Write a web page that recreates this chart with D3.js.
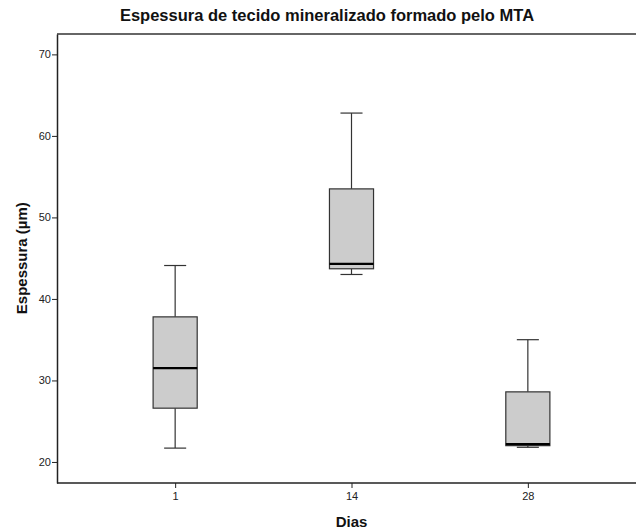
<!DOCTYPE html>
<html>
<head>
<meta charset="utf-8">
<script src="https://cdn.jsdelivr.net/npm/d3@7"></script>
<style>
  body { margin: 0; background: #fff; }
  text { font-family: "Liberation Sans", Arial, sans-serif; }
</style>
</head>
<body>
<div id="chart"></div>
<script>
// box plot values
const categories = ["1", "14", "28"];
const maxs    = [44.1, 62.8, 35.0];
const q3s     = [37.8, 53.5, 28.6];
const medians = [31.5, 44.3, 22.2];
const q1s     = [26.6, 43.7, 22.0];
const mins    = [21.7, 43.0, 21.8];
const yTicks  = [20, 30, 40, 50, 60, 70];

const W = 636, H = 531;
const margin = {top: 34, left: 57, bottom: 483, right: 646};

const svg = d3.select("#chart").append("svg")
    .attr("width", W)
    .attr("height", H);

// scales
const x = d3.scalePoint()
    .domain(categories)
    .range([margin.left, margin.right])
    .padding(0.67);
const step = x.step();
const boxW = step * 0.25;

const y = d3.scaleLinear()
    .domain([17.42, 72.5])
    .range([margin.bottom, margin.top]);

// frame top line
svg.append("line")
    .attr("x1", margin.left).attr("x2", W + 10)
    .attr("y1", margin.top).attr("y2", margin.top)
    .attr("stroke", "#333").attr("stroke-width", 1.5);

// y axis
const yAxis = svg.append("g")
    .attr("transform", "translate(" + margin.left + ",0)")
    .call(d3.axisLeft(y).tickValues(yTicks).tickSize(5).tickSizeOuter(0));
yAxis.select(".domain").attr("stroke", "#222").attr("stroke-width", 1.5);
yAxis.selectAll(".tick line").attr("stroke", "#222");
yAxis.selectAll(".tick text")
    .attr("x", -6)
    .attr("font-size", "11px")
    .attr("font-family", "Liberation Sans, Arial, sans-serif")
    .attr("fill", "#222");

// x axis
const xAxis = svg.append("g")
    .attr("transform", "translate(0," + margin.bottom + ")")
    .call(d3.axisBottom(x).tickSize(5).tickSizeOuter(0));
xAxis.select(".domain")
    .attr("d", "M" + margin.left + ",0H" + (W + 10))
    .attr("stroke", "#222").attr("stroke-width", 1.5);
xAxis.selectAll(".tick line").attr("stroke", "#222");
xAxis.selectAll(".tick text")
    .attr("y", 9)
    .attr("font-size", "11px")
    .attr("font-family", "Liberation Sans, Arial, sans-serif")
    .attr("fill", "#222");

// boxes
const data = categories.map((c, i) => ({
    cat: c, max: maxs[i], q3: q3s[i], med: medians[i], q1: q1s[i], min: mins[i]
}));

const g = svg.append("g").attr("class", "boxes");
const box = g.selectAll("g.box").data(data).enter().append("g")
    .attr("class", "box")
    .attr("transform", d => "translate(" + x(d.cat) + ",0)");

// whiskers
box.append("line")
    .attr("x1", 0).attr("x2", 0)
    .attr("y1", d => y(d.max)).attr("y2", d => y(d.q3))
    .attr("stroke", "#333").attr("stroke-width", 1.2);
box.append("line")
    .attr("x1", 0).attr("x2", 0)
    .attr("y1", d => y(d.q1)).attr("y2", d => y(d.min))
    .attr("stroke", "#333").attr("stroke-width", 1.2);
// caps
box.append("line")
    .attr("x1", -boxW / 4).attr("x2", boxW / 4)
    .attr("y1", d => y(d.max)).attr("y2", d => y(d.max))
    .attr("stroke", "#333").attr("stroke-width", 1.2);
box.append("line")
    .attr("x1", -boxW / 4).attr("x2", boxW / 4)
    .attr("y1", d => y(d.min)).attr("y2", d => y(d.min))
    .attr("stroke", "#333").attr("stroke-width", 1.2);

// box
box.append("rect")
    .attr("x", -boxW / 2)
    .attr("width", boxW)
    .attr("y", d => y(d.q3))
    .attr("height", d => y(d.q1) - y(d.q3))
    .attr("fill", "#cccccc")
    .attr("stroke", "#333")
    .attr("stroke-width", 1.2);

// median
box.append("line")
    .attr("x1", -boxW / 2).attr("x2", boxW / 2)
    .attr("y1", d => y(d.med)).attr("y2", d => y(d.med))
    .attr("stroke", "#000").attr("stroke-width", 2.2);

// title
svg.append("text")
    .attr("x", 327).attr("y", 21)
    .attr("text-anchor", "middle")
    .attr("font-size", "16.5px")
    .attr("font-weight", "bold")
    .attr("fill", "#111")
    .text("Espessura de tecido mineralizado formado pelo MTA");

// axis titles
svg.append("text")
    .attr("transform", "translate(27," + y(45) + ") rotate(-90)")
    .attr("text-anchor", "middle")
    .attr("font-size", "15px")
    .attr("font-weight", "bold")
    .attr("fill", "#111")
    .text("Espessura (µm)");

svg.append("text")
    .attr("x", x("14")).attr("y", 527)
    .attr("text-anchor", "middle")
    .attr("font-size", "15px")
    .attr("font-weight", "bold")
    .attr("fill", "#111")
    .text("Dias");
</script>
</body>
</html>
